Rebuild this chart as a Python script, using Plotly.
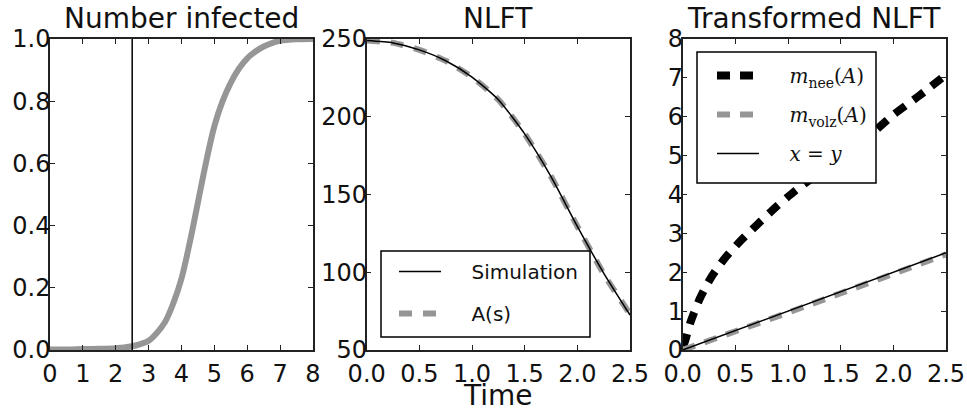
import plotly.graph_objects as go

# ---------------- data ----------------
# Panel 1: Number infected
inf_t = [0, 0.5, 1, 1.5, 2, 2.25, 2.5, 2.75, 3, 3.25, 3.5, 3.75, 4, 4.25, 4.5, 4.75,
         5, 5.25, 5.5, 5.75, 6, 6.25, 6.5, 6.75, 7, 7.5, 8]
inf_y = [0.002, 0.002, 0.003, 0.004, 0.006, 0.008, 0.012, 0.019, 0.03, 0.055, 0.09, 0.15,
         0.23, 0.345, 0.475, 0.605, 0.72, 0.80, 0.86, 0.905, 0.938, 0.96, 0.976, 0.987,
         0.994, 0.999, 1.0]
cut_x = [2.5, 2.5]
cut_y = [0.0, 1.0]

# Panel 2: NLFT
nlft_t = [0, 0.25, 0.5, 0.75, 1.0, 1.25, 1.5, 1.75, 2.0, 2.25, 2.5]
sim_y = [249, 247.5, 243, 236, 225.5, 211, 189, 161.5, 129.5, 99.5, 72.5]
as_y = [249, 247.5, 243, 236, 225.5, 211, 189, 161.5, 129.5, 99, 73]

# Panel 3: Transformed NLFT
nee_x = [0, 0.02, 0.076, 0.164, 0.27, 0.40, 0.55, 0.72, 0.886, 1.066,
         1.25, 1.5, 1.75, 2.0, 2.25, 2.5]
nee_y = [0.1, 0.21, 0.73, 1.33, 1.87, 2.36, 2.81, 3.26, 3.68, 4.09,
         4.47, 5.0, 5.46, 6.05, 6.55, 7.08]
volz_x = [0, 0.5, 1.0, 1.5, 2.0, 2.5]
volz_y = [0.0, 0.47, 0.96, 1.46, 1.96, 2.46]
id_x = [0, 2.5]
id_y = [0, 2.5]

titles = ["Number infected", "NLFT", "Transformed NLFT"]
xlabel = "Time"
names2 = ["Simulation", "A(s)"]
names3 = ["<i>m</i><sub>nee</sub>(<i>A</i>)", "<i>m</i><sub>volz</sub>(<i>A</i>)", "<i>x</i> = <i>y</i>"]

GRAY = "#969696"
FONT = "DejaVu Sans"
PAD = "&nbsp;" * 4

fig = go.Figure()

# panel 1
fig.add_trace(go.Scatter(x=inf_t, y=inf_y, mode="lines",
                         line=dict(color=GRAY, width=6, shape="spline", smoothing=1.0),
                         showlegend=False, xaxis="x", yaxis="y"))
fig.add_trace(go.Scatter(x=cut_x, y=cut_y, mode="lines", line=dict(color="black", width=1.5),
                         showlegend=False, xaxis="x", yaxis="y"))

# panel 2
fig.add_trace(go.Scatter(x=nlft_t, y=as_y, mode="lines", name=PAD + names2[1],
                         line=dict(color=GRAY, width=6, dash="13px,11px", shape="spline", smoothing=0.6),
                         xaxis="x2", yaxis="y2", legend="legend", legendgroup="a", legendrank=2))
fig.add_trace(go.Scatter(x=nlft_t, y=sim_y, mode="lines", name=PAD + names2[0],
                         line=dict(color="black", width=1.5, shape="spline", smoothing=0.6),
                         xaxis="x2", yaxis="y2", legend="legend", legendgroup="s", legendrank=1))

# panel 3
fig.add_trace(go.Scatter(x=nee_x, y=nee_y, mode="lines", name=PAD + names3[0],
                         line=dict(color="black", width=8, dash="13px,10px", shape="spline", smoothing=0.6),
                         xaxis="x3", yaxis="y3", legend="legend2", legendgroup="n"))
fig.add_trace(go.Scatter(x=volz_x, y=volz_y, mode="lines", name=PAD + names3[1],
                         line=dict(color=GRAY, width=6, dash="13px,10px"),
                         xaxis="x3", yaxis="y3", legend="legend2", legendgroup="v"))
fig.add_trace(go.Scatter(x=id_x, y=id_y, mode="lines", name=PAD + names3[2],
                         line=dict(color="black", width=1.5),
                         xaxis="x3", yaxis="y3", legend="legend2", legendgroup="i"))

W, H = 967, 416
L, R, T, B = 50, 21, 39, 66
pw = W - L - R
ph = H - T - B
doms = [(0, 263 / pw), (316.7 / pw, 580 / pw), (632.7 / pw, 1.0)]


def px(xp):
    return (xp - L) / pw


def py(yp):
    return (H - B - yp) / ph


axis_common = dict(showline=True, linecolor="#222", linewidth=1.5, mirror="ticks",
                   ticks="inside", ticklen=5, tickwidth=1, tickcolor="#222",
                   showgrid=False, zeroline=False, automargin=False,
                   tickfont=dict(family=FONT, size=24, color="#111"))
xextra = dict(ticklabelstandoff=1)
yextra = dict(ticklabelstandoff=-7)

layout = dict(
    width=W, height=H, margin=dict(l=L, r=R, t=T, b=B, autoexpand=False),
    paper_bgcolor="white", plot_bgcolor="white",
    font=dict(family=FONT, color="#111"),
    hovermode=False,
    xaxis=dict(domain=doms[0], range=[0, 8], dtick=1, tick0=0, **axis_common, **xextra),
    yaxis=dict(anchor="x", range=[0, 1], dtick=0.2, tick0=0, tickformat=".1f", **axis_common, **yextra),
    xaxis2=dict(domain=doms[1], anchor="y2", range=[0, 2.5], dtick=0.5, tick0=0, tickformat=".1f",
                **axis_common, **xextra),
    yaxis2=dict(anchor="x2", range=[50, 250], dtick=50, tick0=50, **axis_common, **yextra),
    xaxis3=dict(domain=doms[2], anchor="y3", range=[0, 2.5], dtick=0.5, tick0=0, tickformat=".1f",
                **axis_common, **xextra),
    yaxis3=dict(anchor="x3", range=[0, 8], dtick=1, tick0=0, **axis_common, **yextra),
    legend=dict(x=px(394), y=py(252), xanchor="left", yanchor="top",
                borderwidth=0, bgcolor="rgba(0,0,0,0)",
                font=dict(family=FONT, size=20, color="#111"),
                itemwidth=42, tracegroupgap=13, traceorder="grouped"),
    legend2=dict(x=px(712), y=py(56), xanchor="left", yanchor="top",
                 borderwidth=0, bgcolor="rgba(0,0,0,0)",
                 font=dict(family="DejaVu Serif", size=20, color="#111"),
                 itemwidth=42, tracegroupgap=10, traceorder="grouped"),
    showlegend=True,
)
fig.update_layout(**layout)

# legend frames
for (x0, y0, x1, y1) in [(381, 251, 590, 337), (697, 52, 876, 183)]:
    fig.add_shape(type="rect", xref="paper", yref="paper", x0=px(x0), x1=px(x1), y0=py(y1), y1=py(y0),
                  line=dict(color="black", width=1.5), fillcolor="white", layer="above")

centers = [(d[0] + d[1]) / 2 for d in doms]
for c, t in zip(centers, titles):
    fig.add_annotation(text=t, x=c, y=1, xref="paper", yref="paper", xanchor="center", yanchor="middle",
                       yshift=21, showarrow=False, font=dict(family=FONT, size=28, color="#111"))
fig.add_annotation(text=xlabel, x=centers[1], y=0, xref="paper", yref="paper", xanchor="center",
                   yanchor="middle", yshift=-45, showarrow=False, font=dict(family=FONT, size=28, color="#111"))

fig.write_html("out.html", config={"displayModeBar": False},
               post_script="document.body.style.margin='0';")
